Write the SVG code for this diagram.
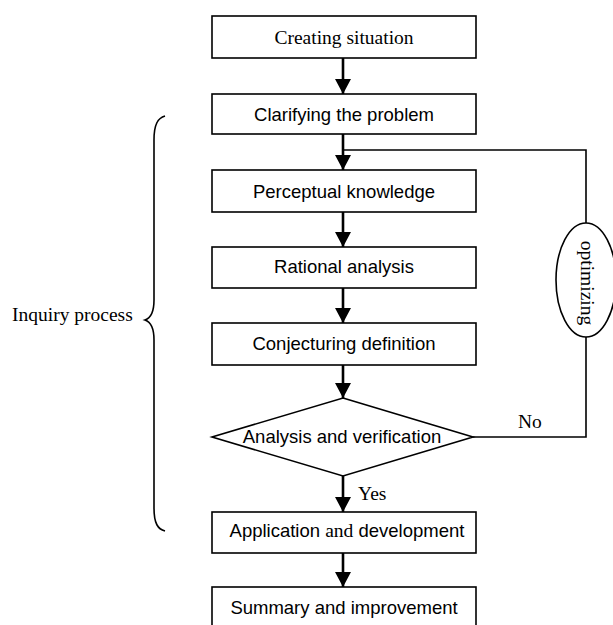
<svg xmlns="http://www.w3.org/2000/svg" width="613" height="625" viewBox="0 0 613 625">
<style>
.box{fill:#fff;stroke:#000;stroke-width:1.6}
.sans{font-family:"Liberation Sans",Arial,sans-serif;font-size:18.5px;fill:#000;text-anchor:middle}
.serif{font-family:"Liberation Serif","Times New Roman",serif;font-size:19.5px;fill:#000}
.arrow{stroke:#000;stroke-width:2.6;fill:none}
.thin{stroke:#000;stroke-width:1.6;fill:none}
</style>
<defs>
<marker id="ah" markerUnits="userSpaceOnUse" markerWidth="15" markerHeight="16" refX="15" refY="8" orient="auto">
<path d="M0,0 L15,8 L0,16 z" fill="#000"/>
</marker>
</defs>
<rect width="613" height="625" fill="#fff"/>
<g id="connectors">
<line class="arrow" x1="343" y1="58" x2="343" y2="94" marker-end="url(#ah)"/>
<line class="arrow" x1="343" y1="134" x2="343" y2="170" marker-end="url(#ah)"/>
<line class="arrow" x1="343" y1="212" x2="343" y2="247" marker-end="url(#ah)"/>
<line class="arrow" x1="343" y1="288" x2="343" y2="323" marker-end="url(#ah)"/>
<line class="arrow" x1="343" y1="365" x2="343" y2="398" marker-end="url(#ah)"/>
<line class="arrow" x1="343" y1="476" x2="343" y2="512" marker-end="url(#ah)"/>
<line class="arrow" x1="343" y1="553" x2="343" y2="587" marker-end="url(#ah)"/>
<polyline class="thin" points="473,437 586,437 586,337"/>
<polyline class="thin" points="586,223 586,150 343,150"/>
<text class="serif" x="518" y="428">No</text>
<text class="serif" x="358" y="500">Yes</text>
</g>
<g id="n1"><rect class="box" x="212" y="16" width="264" height="42"/><text class="serif" x="344" y="44" text-anchor="middle">Creating situation</text></g>
<g id="n2"><rect class="box" x="212" y="94" width="264" height="40"/><text class="sans" x="344" y="121">Clarifying the problem</text></g>
<g id="n3"><rect class="box" x="212" y="170" width="264" height="42"/><text class="sans" x="344" y="198">Perceptual knowledge</text></g>
<g id="n4"><rect class="box" x="212" y="247" width="264" height="41"/><text class="sans" x="344" y="273">Rational analysis</text></g>
<g id="n5"><rect class="box" x="212" y="323" width="264" height="42"/><text class="sans" x="344" y="350">Conjecturing definition</text></g>
<g id="n6"><polygon class="box" points="343,398 473,437 343,476 212,437"/><text class="sans" x="342" y="443">Analysis and verification</text></g>
<g id="n7"><rect class="box" x="212" y="512" width="264" height="41"/><text class="sans" x="347" y="537">Application <tspan font-family="Liberation Serif, Times New Roman, serif" font-size="19.5px">and</tspan> development</text></g>
<g id="n8"><rect class="box" x="212" y="587" width="264" height="40"/><text class="sans" x="344" y="614">Summary and improvement</text></g>
<g id="opt"><ellipse class="box" cx="586" cy="280" rx="30" ry="57"/><text class="serif" transform="translate(581,283) rotate(90)" text-anchor="middle">optimizing</text></g>
<g id="inquiry">
<path class="thin" d="M165,116 C158,118 154,124 154,140 L154,300 C154,312 151,318 145,320 C151,322 154,328 154,340 L154,508 C154,524 158,529 165,531"/>
<text class="serif" x="12" y="321">Inquiry process</text>
</g>
</svg>
